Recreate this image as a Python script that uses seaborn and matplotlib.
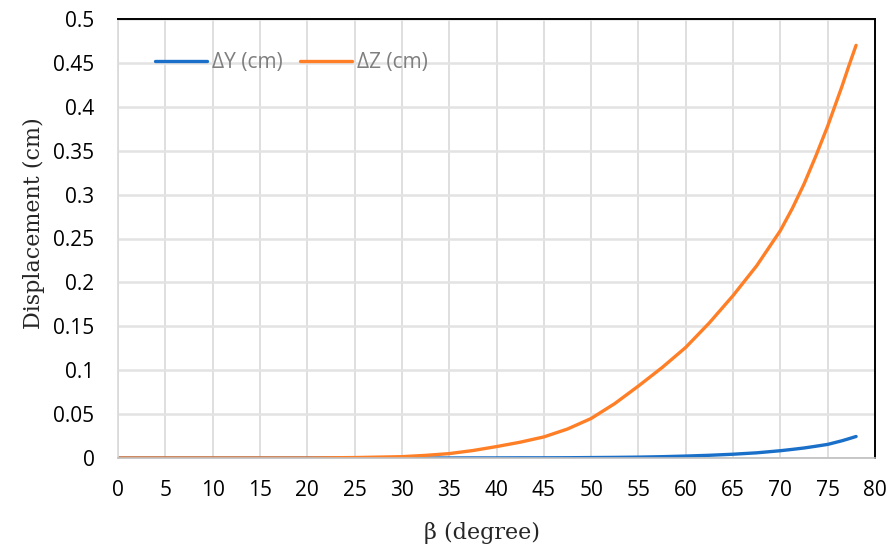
import matplotlib
matplotlib.use("Agg")
import matplotlib.pyplot as plt
import seaborn as sns
import pandas as pd

# ---- data ----
beta = [0, 5, 10, 15, 20, 25, 30, 32.5, 35, 37.5, 40, 42.5, 45, 47.5, 50,
        52.5, 55, 57.5, 60, 62.5, 65, 67.5, 70, 71.25, 72.5, 73.75, 75, 76.5, 77.25, 78]
dY = [0, 0, 0, 0, 0, 0, 0, 0, 0, 0.0001, 0.0001, 0.0002, 0.0002, 0.0003, 0.0005,
      0.0007, 0.001, 0.0015, 0.0022, 0.0031, 0.0043, 0.0059, 0.0083, 0.0098, 0.0114, 0.0134,
      0.0155, 0.0196, 0.022, 0.0245]
dZ = [0, 0, 0, 0, 0, 0.0005, 0.0015, 0.003, 0.005, 0.0085, 0.013, 0.018, 0.024, 0.033, 0.045,
      0.062, 0.082, 0.103, 0.126, 0.154, 0.185, 0.219, 0.259, 0.284, 0.312, 0.344,
      0.378, 0.423, 0.447, 0.47]
series_names = ["ΔY (cm)", "ΔZ (cm)"]
x_ticks = list(range(0, 81, 5))
y_ticks = [0, 0.05, 0.1, 0.15, 0.2, 0.25, 0.3, 0.35, 0.4, 0.45, 0.5]
y_tick_labels = ["0", "0.05", "0.1", "0.15", "0.2", "0.25", "0.3", "0.35", "0.4", "0.45", "0.5"]

df = pd.DataFrame({
    "beta": beta * 2,
    "value": dY + dZ,
    "series": [series_names[0]] * len(beta) + [series_names[1]] * len(beta),
})

sns.set_style("white")
plt.rcParams["font.family"] = ["Open Sans", "DejaVu Sans"]

fig = plt.figure(figsize=(8.93, 5.56), dpi=100)
ax = fig.add_axes([118 / 893, 1 - 458 / 556, (875 - 118) / 893, (458 - 19) / 556])

palette = {series_names[0]: "#1a6fc9", series_names[1]: "#ff7f27"}
sns.lineplot(data=df, x="beta", y="value", hue="series", palette=palette,
             linewidth=2.4, ax=ax, legend=True)

ax.set_xlim(0, 80)
ax.set_ylim(0, 0.5)
ax.set_xticks(x_ticks)
ax.set_yticks(y_ticks)
ax.set_yticklabels(y_tick_labels)
ax.tick_params(axis="both", length=0, labelsize=15, colors="#000000")
ax.tick_params(axis="y", pad=17)
ax.tick_params(axis="x", pad=16)

ax.grid(True, axis="x", color="#d9d9d9", linewidth=1.2)
ax.grid(True, axis="y", color="#e3e3e3", linewidth=1.8)
ax.set_axisbelow(True)

for side in ["top", "right"]:
    ax.spines[side].set_color("#000000")
    ax.spines[side].set_linewidth(1.4)
ax.spines["left"].set_color("#d9d9d9")
ax.spines["left"].set_linewidth(1.2)
ax.spines["bottom"].set_color("#bfbfbf")
ax.spines["bottom"].set_linewidth(1.2)

ax.set_xlabel("β (degree)", family=["DejaVu Serif"], fontsize=16)
ax.set_ylabel("Displacement (cm)", family=["DejaVu Serif"], fontsize=16)
ax.xaxis.set_label_coords(0.481, -0.146)
ax.yaxis.set_label_coords(-0.097, 0.534)

handles, labels = ax.get_legend_handles_labels()
leg = ax.legend(handles, labels, loc="center left", bbox_to_anchor=(0.038, 0.90),
                ncol=2, frameon=False, fontsize=15, handlelength=2.5,
                handletextpad=0.25, columnspacing=0.8, borderaxespad=0)
for t in leg.get_texts():
    t.set_color("#7f7f7f")
for line in leg.get_lines():
    line.set_linewidth(2.4)

fig.savefig("out.png", dpi=100)
